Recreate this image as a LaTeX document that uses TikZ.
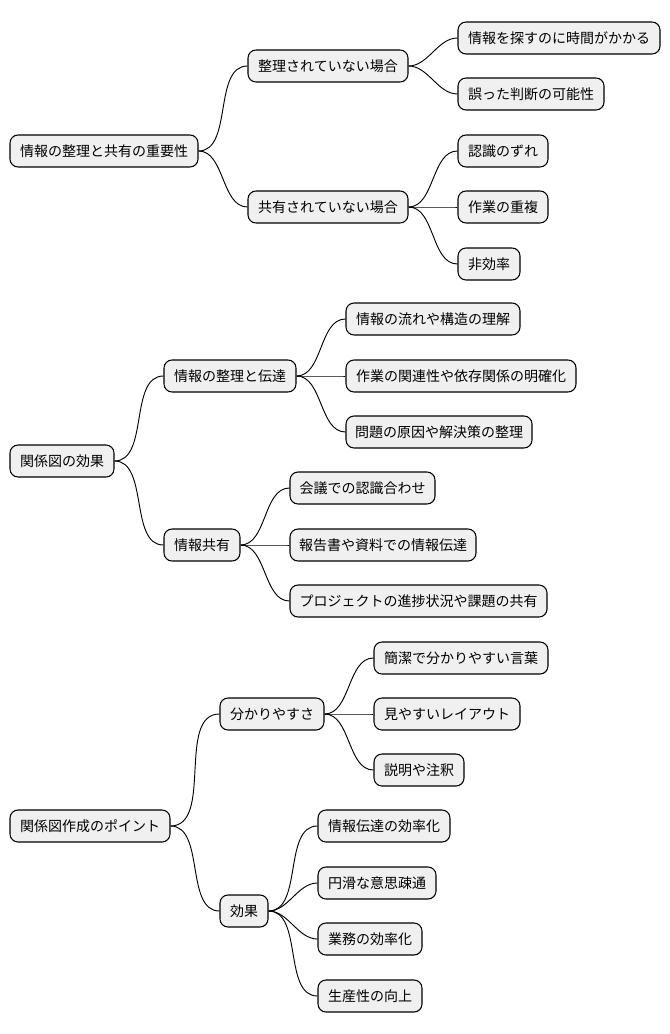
\documentclass[tikz,border=0pt]{standalone}
\usepackage{fontspec}
\setmainfont{Noto Sans CJK JP}
\begin{document}
\begin{tikzpicture}[x=0.75pt,y=-0.75pt,
  box/.style={draw=black,fill=black!6,rounded corners=6pt,line width=0.8pt,minimum height=24pt,inner sep=0pt,font=\fontsize{10.5pt}{12pt}\selectfont},
  con/.style={draw=black,line width=0.7pt}]
\useasboundingbox (0,0) rectangle (670,1034);
\newcommand\nd[5]{\node[box,minimum width={(#3-#2)*0.75pt}] (#1) at ({(#2+#3)/2},#4) {#5};}
\newcommand\cn[2]{\draw[con] (#1.east) to[out=0,in=180,looseness=0.9] (#2.west);}
\nd{r1}{10}{198}{151}{情報の整理と共有の重要性}
\nd{a}{248}{408}{66}{整理されていない場合}
\nd{a1}{458}{660}{38}{情報を探すのに時間がかかる}
\nd{a2}{458}{604}{94}{誤った判断の可能性}
\nd{b}{248}{408}{207}{共有されていない場合}
\nd{b1}{458}{548}{151}{認識のずれ}
\nd{b2}{458}{548}{207}{作業の重複}
\nd{b3}{458}{520}{264}{非効率}
\nd{r2}{10}{114}{461}{関係図の効果}
\nd{c}{164}{296}{376}{情報の整理と伝達}
\nd{c1}{346}{520}{319}{情報の流れや構造の理解}
\nd{c2}{346}{576}{376}{作業の関連性や依存関係の明確化}
\nd{c3}{346}{532}{432}{問題の原因や解決策の整理}
\nd{d}{164}{240}{545}{情報共有}
\nd{d1}{290}{435}{488}{会議での認識合わせ}
\nd{d2}{290}{476}{545}{報告書や資料での情報伝達}
\nd{d3}{290}{547}{601}{プロジェクトの進捗状況や課題の共有}
\nd{r3}{10}{170}{826}{関係図作成のポイント}
\nd{e}{220}{324}{714}{分かりやすさ}
\nd{e1}{374}{548}{658}{簡潔で分かりやすい言葉}
\nd{e2}{374}{520}{714}{見やすいレイアウト}
\nd{e3}{374}{464}{770}{説明や注釈}
\nd{f}{220}{268}{911}{効果}
\nd{f1}{318}{450}{826}{情報伝達の効率化}
\nd{f2}{318}{436}{883}{円滑な意思疎通}
\nd{f3}{318}{422}{939}{業務の効率化}
\nd{f4}{318}{422}{996}{生産性の向上}
\cn{r1}{a}\cn{r1}{b}\cn{a}{a1}\cn{a}{a2}\cn{b}{b1}\cn{b}{b2}\cn{b}{b3}
\cn{r2}{c}\cn{r2}{d}\cn{c}{c1}\cn{c}{c2}\cn{c}{c3}\cn{d}{d1}\cn{d}{d2}\cn{d}{d3}
\cn{r3}{e}\cn{r3}{f}\cn{e}{e1}\cn{e}{e2}\cn{e}{e3}\cn{f}{f1}\cn{f}{f2}\cn{f}{f3}\cn{f}{f4}
\end{tikzpicture}
\end{document}
